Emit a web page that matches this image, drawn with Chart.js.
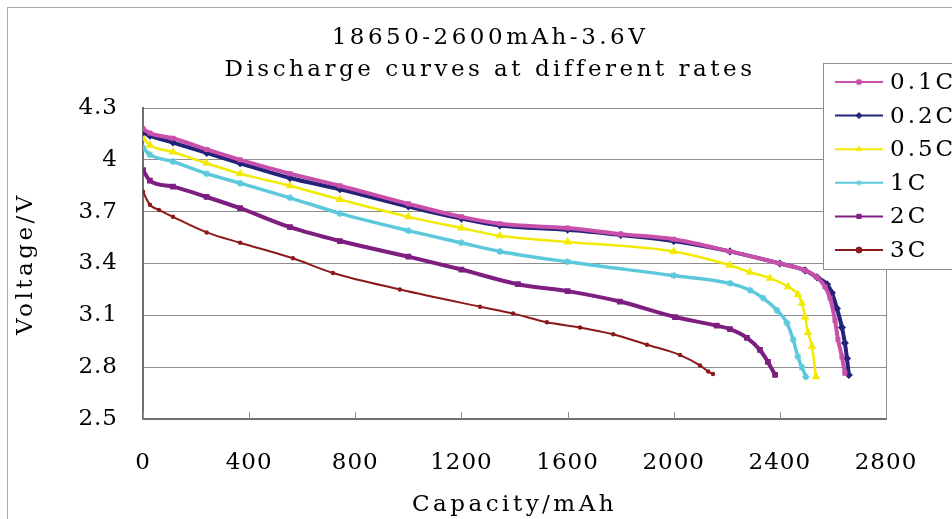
<!DOCTYPE html>
<html>
<head>
<meta charset="utf-8">
<title>18650-2600mAh-3.6V discharge curves</title>
<script src="https://cdn.jsdelivr.net/npm/chart.js@4.4.1/dist/chart.umd.min.js"></script>
<style>
  html, body { margin: 0; padding: 0; background: #fff; }
  canvas { display: block; }
</style>
</head>
<body>
<canvas id="chart" width="952" height="519"></canvas>
<script>
const titleLines = ["18650-2600mAh-3.6V", "Discharge curves at different rates"];
const rates = ["0.1C", "0.2C", "0.5C", "1C", "2C", "3C"];
const xTicks = [0, 400, 800, 1200, 1600, 2000, 2400, 2800];
const yTicks = [2.5, 2.8, 3.1, 3.4, 3.7, 4.0, 4.3];

// capacity (mAh) and voltage (V)
const cap01 = [0, 26, 113, 240, 366, 554, 742, 1000, 1200, 1345, 1600, 1800, 2000, 2212, 2400, 2495, 2540, 2570, 2589, 2608, 2619, 2634, 2645];
const volt01 = [4.18, 4.155, 4.125, 4.06, 4.00, 3.92, 3.85, 3.745, 3.67, 3.63, 3.605, 3.57, 3.54, 3.47, 3.40, 3.36, 3.32, 3.265, 3.20, 3.07, 2.96, 2.86, 2.765];

const cap02 = [0, 26, 113, 240, 366, 554, 742, 1000, 1200, 1345, 1600, 1800, 2000, 2212, 2400, 2495, 2540, 2578, 2596, 2615, 2634, 2645, 2653, 2660];
const volt02 = [4.16, 4.14, 4.10, 4.04, 3.98, 3.895, 3.83, 3.73, 3.66, 3.62, 3.595, 3.565, 3.53, 3.47, 3.40, 3.36, 3.32, 3.28, 3.23, 3.14, 3.03, 2.94, 2.85, 2.755];

const cap05 = [0, 26, 113, 240, 366, 554, 742, 1000, 1200, 1345, 1600, 2000, 2212, 2287, 2363, 2431, 2468, 2483, 2495, 2506, 2521, 2536];
const volt05 = [4.125, 4.085, 4.045, 3.98, 3.92, 3.85, 3.77, 3.67, 3.605, 3.56, 3.525, 3.47, 3.39, 3.35, 3.315, 3.265, 3.22, 3.17, 3.09, 3.00, 2.92, 2.745];

const cap1 = [0, 26, 113, 240, 366, 554, 742, 1000, 1200, 1345, 1600, 2000, 2212, 2288, 2337, 2389, 2427, 2450, 2468, 2483, 2498];
const volt1 = [4.07, 4.03, 3.99, 3.92, 3.865, 3.78, 3.69, 3.59, 3.52, 3.47, 3.41, 3.33, 3.285, 3.245, 3.20, 3.13, 3.055, 2.96, 2.86, 2.80, 2.745];

const cap2 = [0, 26, 113, 240, 366, 554, 742, 1000, 1200, 1413, 1600, 1797, 2005, 2162, 2212, 2276, 2325, 2355, 2382];
const volt2 = [3.94, 3.88, 3.845, 3.785, 3.72, 3.61, 3.53, 3.44, 3.365, 3.28, 3.24, 3.18, 3.09, 3.04, 3.02, 2.97, 2.90, 2.83, 2.755];

const cap3 = [0, 26, 60, 113, 240, 366, 565, 716, 968, 1270, 1395, 1522, 1647, 1772, 1899, 2024, 2099, 2130, 2148];
const volt3 = [3.815, 3.74, 3.71, 3.67, 3.58, 3.52, 3.43, 3.345, 3.25, 3.15, 3.11, 3.06, 3.03, 2.99, 2.93, 2.87, 2.81, 2.775, 2.76];

const caps = [cap01, cap02, cap05, cap1, cap2, cap3];
const volts = [volt01, volt02, volt05, volt1, volt2, volt3];

// excel-ish look
const colors = ["#c850aa", "#23237a", "#f2ea00", "#5cc8dc", "#7d1e80", "#8c1a1a"];
const markers = ["rect", "rectRot", "triangle", "star", "rect", "circle"];
const markerSizes = [2.5, 3, 3.5, 3.5, 3, 1.5];
const lineWidths = [4, 4, 2.5, 3.5, 4, 2];

const serif = "'DejaVu Serif', 'Liberation Serif', serif";
const gridColor = "#8c8c8c";

const datasets = rates.map((label, i) => ({
    label,
    data: caps[i].map((x, j) => ({ x, y: volts[i][j] })),
    borderColor: colors[i],
    backgroundColor: colors[i],
    borderWidth: lineWidths[i],
    pointStyle: markers[i],
    pointRadius: markerSizes[i],
    pointBorderWidth: 1.5,
    cubicInterpolationMode: "monotone"
}));

// frame, right border, inner tick marks, boxed legend and the wide SimSun-like text spacing
const decorations = {
    id: "decorations",
    afterLayout(chart) {
        // title is centred a bit right of the canvas centre
        chart.titleBlock.left += 47;
        chart.titleBlock.right += 47;
    },
    beforeDraw(chart) {
        const ctx = chart.ctx;
        ctx.save();
        ctx.strokeStyle = "#a8a8a8";
        ctx.lineWidth = 1;
        ctx.strokeRect(7.5, 7.5, chart.width, chart.height);
        ctx.restore();
        ctx.letterSpacing = "3.5px";
    },
    beforeDatasetsDraw(chart) {
        const { ctx, chartArea: a, scales } = chart;
        ctx.save();
        ctx.strokeStyle = gridColor;
        ctx.lineWidth = 1;
        ctx.beginPath();
        ctx.moveTo(a.right + 0.5, a.top);
        ctx.lineTo(a.right + 0.5, a.bottom);
        xTicks.forEach(v => {
            const px = Math.round(scales.x.getPixelForValue(v)) + 0.5;
            ctx.moveTo(px, a.bottom);
            ctx.lineTo(px, a.bottom - 7);
        });
        ctx.stroke();
        ctx.restore();
    },
    afterDatasetsDraw(chart) {
        chart.ctx.letterSpacing = "1px";
    },
    afterDraw(chart) {
        const { ctx, chartArea: a } = chart;
        const left = a.right - 63, top = 63, rowH = 33.6;
        ctx.save();
        ctx.letterSpacing = "3px";
        ctx.fillStyle = "#fff";
        ctx.fillRect(left, top, 200, 206);
        ctx.strokeStyle = gridColor;
        ctx.lineWidth = 1;
        ctx.strokeRect(left + 0.5, top + 0.5, 200, 206);
        ctx.font = "23px " + serif;
        ctx.textBaseline = "middle";
        chart.data.datasets.forEach((ds, i) => {
            const y = top + 19 + i * rowH;
            ctx.strokeStyle = ds.borderColor;
            ctx.fillStyle = ds.borderColor;
            ctx.lineWidth = 2;
            ctx.beginPath();
            ctx.moveTo(left + 12, y);
            ctx.lineTo(left + 60, y);
            ctx.stroke();
            ctx.lineWidth = 1;
            if (Chart.helpers && Chart.helpers.drawPoint) {
                Chart.helpers.drawPoint(ctx, { pointStyle: ds.pointStyle, radius: 3, rotation: 0, borderWidth: 1 }, left + 36, y);
            }
            ctx.fillStyle = "#000";
            ctx.fillText(ds.label, left + 67, y + 1);
        });
        ctx.restore();
        ctx.letterSpacing = "0px";
    }
};

new Chart(document.getElementById("chart"), {
    type: "line",
    data: { datasets },
    options: {
        responsive: false,
        animation: false,
        layout: { padding: { left: 0, right: 66, top: 0, bottom: 0 } },
        plugins: {
            legend: { display: false },
            tooltip: { enabled: false },
            title: {
                display: true,
                text: titleLines,
                color: "#000",
                font: { family: serif, size: 23, weight: "normal", lineHeight: "32px" },
                padding: { top: 22, bottom: 22 }
            }
        },
        scales: {
            x: {
                type: "linear",
                min: 0,
                max: 2800,
                afterBuildTicks: s => { s.ticks = xTicks.map(v => ({ value: v })); },
                afterFit: s => { s.height = 100; },
                grid: { display: false },
                border: { color: "#707070", width: 2 },
                ticks: {
                    z: 1,
                    color: "#000",
                    padding: 22,
                    maxRotation: 0,
                    autoSkip: false,
                    font: { family: serif, size: 23 },
                    callback: v => String(v)
                },
                title: {
                    display: true,
                    text: "Capacity/mAh",
                    color: "#000",
                    font: { family: serif, size: 23 },
                    padding: { top: 0, bottom: 0 }
                }
            },
            y: {
                type: "linear",
                min: 2.5,
                max: 4.3,
                afterBuildTicks: s => { s.ticks = yTicks.map(v => ({ value: v })); },
                afterFit: s => { s.width = 143; },
                grid: { drawTicks: false, color: gridColor },
                border: { color: "#707070", width: 2 },
                ticks: {
                    z: 1,
                    color: "#000",
                    padding: 25,
                    font: { family: serif, size: 23 },
                    callback: v => String(v)
                },
                title: {
                    display: true,
                    text: "Voltage/V",
                    color: "#000",
                    font: { family: serif, size: 23 },
                    padding: { top: 12, bottom: 0 }
                }
            }
        }
    },
    plugins: [decorations]
});
</script>
</body>
</html>
